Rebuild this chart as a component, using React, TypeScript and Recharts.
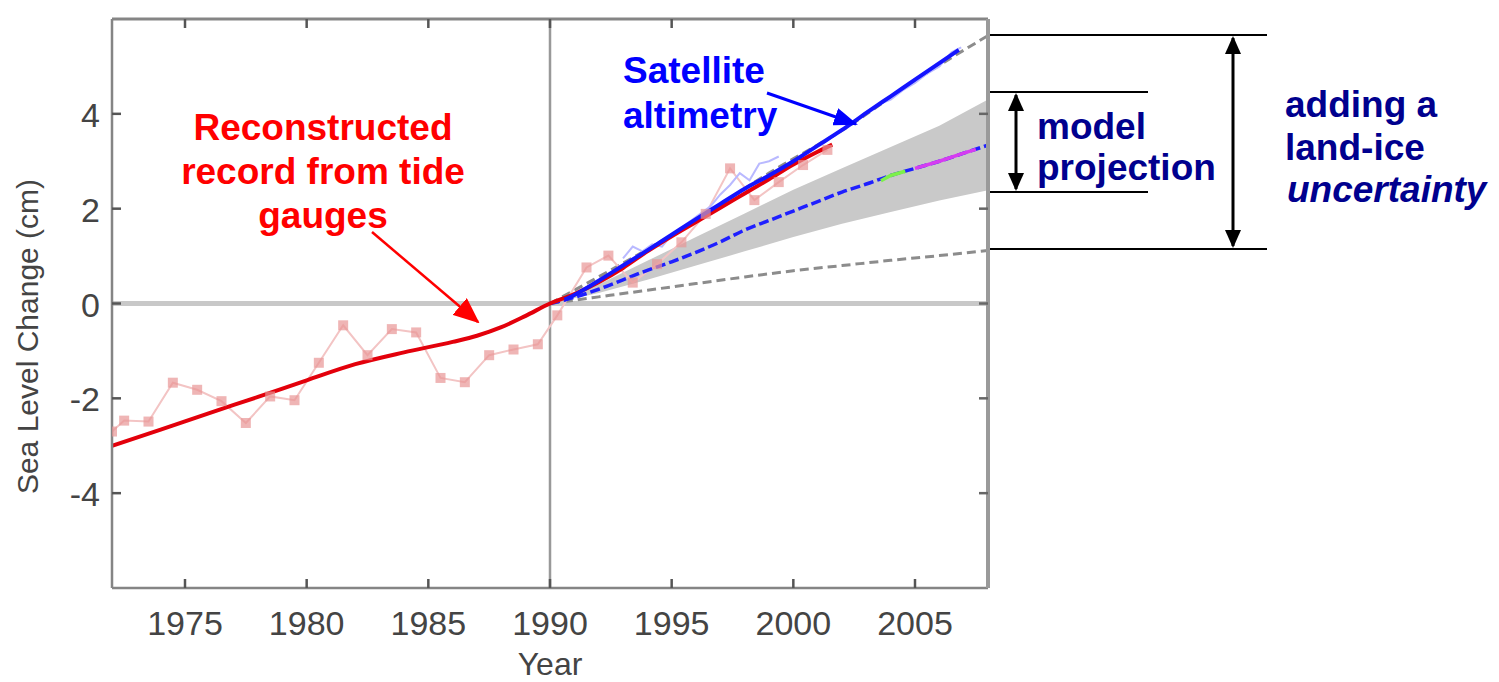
import React from 'react';
import {
  ComposedChart,
  Line,
  Area,
  XAxis,
  YAxis,
  ReferenceLine,
} from 'recharts';

// --- data (cm, relative to 1990) ---
const xTicks = [1975, 1980, 1985, 1990, 1995, 2000, 2005];
const yTicks = [-4, -2, 0, 2, 4];

// smooth reconstruction from tide gauges
const reconYears = [1972, 1974, 1976, 1978, 1980, 1982, 1984, 1986, 1987, 1988, 1989, 1990, 1991, 1992, 1993, 1994, 1995, 1996, 1997, 1998, 1999, 2000, 2001, 2001.6];
const reconCm = [-3.0, -2.66, -2.31, -1.97, -1.62, -1.28, -1.03, -0.81, -0.68, -0.5, -0.26, 0, 0.2, 0.45, 0.75, 1.1, 1.42, 1.72, 2.02, 2.32, 2.62, 2.93, 3.2, 3.35];

// annual tide-gauge values (faint squares)
const gaugeYears = [1972, 1972.5, 1973.5, 1974.5, 1975.5, 1976.5, 1977.5, 1978.5, 1979.5, 1980.5, 1981.5, 1982.5, 1983.5, 1984.5, 1985.5, 1986.5, 1987.5, 1988.5, 1989.5, 1990.3, 1991.5, 1992.4, 1993.4, 1994.4, 1995.4, 1996.4, 1997.4, 1998.4, 1999.4, 2000.4, 2001.4];
const gaugeCm = [-2.7, -2.47, -2.49, -1.67, -1.82, -2.06, -2.52, -1.96, -2.04, -1.25, -0.46, -1.09, -0.54, -0.61, -1.57, -1.66, -1.09, -0.97, -0.86, -0.25, 0.76, 1.01, 0.44, 0.83, 1.29, 1.89, 2.85, 2.18, 2.56, 2.92, 3.24];

// satellite altimetry trend
const satYears = [1990.6, 1991, 1992, 1993, 1994, 1995, 1996, 1997, 1998, 1999, 2000, 2001, 2002, 2003, 2004, 2005, 2006, 2006.8];
const satCm = [0.08, 0.18, 0.48, 0.8, 1.12, 1.45, 1.78, 2.1, 2.42, 2.7, 3.0, 3.33, 3.66, 4.02, 4.37, 4.72, 5.07, 5.35];

// satellite altimetry raw (faint blue)
const satRawYears = [1993, 1993.4, 1993.8, 1994.2, 1994.6, 1995, 1995.4, 1995.8, 1996.2, 1996.6, 1997, 1997.4, 1997.8, 1998.2, 1998.6, 1999, 1999.4, 2001, 2002.5, 2003, 2003.5, 2004, 2004.5, 2005, 2005.5, 2006, 2006.5, 2006.9];
const satRawCm = [0.95, 1.2, 1.1, 1.25, 1.2, 1.45, 1.6, 1.75, 1.9, 2.05, 2.3, 2.5, 2.75, 2.6, 2.95, 3.0, 3.1, null, 3.85, 4.05, 4.2, 4.3, 4.5, 4.65, 4.85, 5.0, 5.3, 5.4];

// model projection: mean and range
const modelYears = [1990, 1991, 1992, 1993, 1994, 1995, 1996, 1997, 1998, 1999, 2000, 2001, 2002, 2003, 2004, 2005, 2006, 2007, 2008];
const modelCm = [0, 0.13, 0.3, 0.5, 0.7, 0.88, 1.08, 1.3, 1.55, 1.75, 1.95, 2.15, 2.35, 2.52, 2.7, 2.85, 3.0, 3.17, 3.34];
const bandYears = [1990, 1992, 1994, 1996, 1998, 2000, 2002, 2004, 2006, 2008];
const bandLow = [0, 0.22, 0.5, 0.8, 1.1, 1.4, 1.68, 1.93, 2.17, 2.39];
const bandHigh = [0, 0.4, 0.9, 1.4, 1.9, 2.4, 2.85, 3.3, 3.75, 4.3];

// short coloured pieces on the model line
const greenYears = [2003.6, 2004, 2004.6];
const greenCm = [2.59, 2.7, 2.79];
const magentaYears = [2005, 2006, 2007, 2007.5];
const magentaCm = [2.85, 3.0, 3.17, 3.25];

// land-ice uncertainty bounds
const iceLowYears = [1990, 1992, 1994, 1996, 1998, 2000, 2002, 2004, 2006, 2008];
const iceLowCm = [0, 0.14, 0.28, 0.42, 0.56, 0.69, 0.8, 0.91, 1.01, 1.12];
const iceHighYears = [1990, 1993, 1996, 1999, 2002, 2005, 2008];
const iceHighCm = [0, 0.85, 1.75, 2.75, 3.65, 4.7, 5.65];

const rows = (xs: number[], ys: (number | null)[]) => xs.map((year, i) => ({ year, v: ys[i] }));

const reconData = rows(reconYears, reconCm);
const gaugeData = rows(gaugeYears, gaugeCm);
const satData = rows(satYears, satCm);
const satRawData = rows(satRawYears, satRawCm);
const modelData = rows(modelYears, modelCm);
const greenData = rows(greenYears, greenCm);
const magentaData = rows(magentaYears, magentaCm);
const iceLowData = rows(iceLowYears, iceLowCm);
const iceHighData = rows(iceHighYears, iceHighCm);
const bandData = bandYears.map((year, i) => ({ year, band: [bandLow[i], bandHigh[i]] }));

const FONT = '"Liberation Sans", Arial, Helvetica, sans-serif';
const FRAME = '#858585';

const BottomTick = ({ x, y, payload }: any) => (
  <g>
    <line x1={x} x2={x} y1={y} y2={y - 9} stroke="#555" strokeWidth={2.5} />
    <text x={x} y={y + 47} textAnchor="middle" fontSize={34} fill="#444" fontFamily={FONT}>
      {payload.value}
    </text>
  </g>
);

const TopTick = ({ x, y }: any) => (
  <line x1={x} x2={x} y1={y} y2={y + 9} stroke="#555" strokeWidth={2.5} />
);

const LeftTick = ({ x, y, payload }: any) => (
  <g>
    <line x1={x} x2={x + 9} y1={y} y2={y} stroke="#555" strokeWidth={2.5} />
    <text x={x - 12} y={y + 13} textAnchor="end" fontSize={34} fill="#444" fontFamily={FONT}>
      {payload.value}
    </text>
  </g>
);

const RightTick = ({ x, y }: any) => (
  <line x1={x} x2={x - 9} y1={y} y2={y} stroke="#666" strokeWidth={2.5} />
);

const GaugeDot = ({ cx, cy }: any) =>
  cx == null || cy == null ? null : (
    <rect x={cx - 5} y={cy - 5} width={10} height={10} fill="#e89595" fillOpacity={0.7} />
  );

function Annotations() {
  const navy = '#00008e';
  return (
    <svg
      width={1499}
      height={682}
      style={{ position: 'absolute', left: 0, top: 0, pointerEvents: 'none' }}
      fontFamily={FONT}
      fontWeight="bold"
      fontSize={37}
    >
      <defs>
        <marker id="headRed" markerUnits="userSpaceOnUse" markerWidth={26} markerHeight={22} refX={24} refY={11} orient="auto">
          <path d="M0,0 L26,11 L0,22 z" fill="#ff0000" />
        </marker>
        <marker id="headBlue" markerUnits="userSpaceOnUse" markerWidth={24} markerHeight={18} refX={22} refY={9} orient="auto">
          <path d="M0,0 L24,9 L0,18 z" fill="#0000ff" />
        </marker>
        <marker id="headBlack" markerUnits="userSpaceOnUse" markerWidth={18} markerHeight={16} refX={16} refY={8} orient="auto-start-reverse">
          <path d="M0,0 L18,8 L0,16 z" fill="#000" />
        </marker>
      </defs>

      <g fill="#ff0000" textAnchor="middle">
        <text x={323} y={140}>Reconstructed</text>
        <text x={323} y={184}>record from tide</text>
        <text x={323} y={228}>gauges</text>
      </g>
      <line x1={372} y1={232} x2={478} y2={322} stroke="#ff0000" strokeWidth={2.5} markerEnd="url(#headRed)" />

      <g fill="#0000ff">
        <text x={623} y={83}>Satellite</text>
        <text x={623} y={128}>altimetry</text>
      </g>
      <line x1={767} y1={93} x2={856} y2={124} stroke="#0000ff" strokeWidth={3} markerEnd="url(#headBlue)" />

      <g stroke="#000" strokeWidth={2}>
        <line x1={990} x2={1267} y1={35} y2={35} />
        <line x1={990} x2={1148} y1={92} y2={92} />
        <line x1={990} x2={1148} y1={192} y2={192} />
        <line x1={990} x2={1267} y1={249} y2={249} />
      </g>
      <line x1={1016} x2={1016} y1={95} y2={189} stroke="#000" strokeWidth={3} markerStart="url(#headBlack)" markerEnd="url(#headBlack)" />
      <line x1={1233} x2={1233} y1={38} y2={246} stroke="#000" strokeWidth={3} markerStart="url(#headBlack)" markerEnd="url(#headBlack)" />

      <g fill={navy}>
        <text x={1037} y={139}>model</text>
        <text x={1037} y={180}>projection</text>
        <text x={1285} y={117}>adding a</text>
        <text x={1285} y={160}>land-ice</text>
        <text x={1287} y={202} fontStyle="italic">uncertainty</text>
      </g>
    </svg>
  );
}

export default function App() {
  return (
    <div style={{ position: 'absolute', left: 0, top: 0, width: 1499, height: 682, background: '#fff' }}>
      <ComposedChart
        width={1499}
        height={682}
        margin={{ top: 18, right: 510, bottom: 0, left: 0 }}
      >
        <XAxis
          dataKey="year"
          type="number"
          domain={[1972, 2008]}
          allowDataOverflow
          ticks={xTicks}
          height={94}
          tickSize={0}
          tickMargin={0}
          tickLine={false}
          axisLine={{ stroke: FRAME, strokeWidth: 2.5 }}
          tick={<BottomTick />}
          label={({ viewBox }: any) => (
            <text
              x={viewBox.x + viewBox.width / 2}
              y={viewBox.y + 87}
              textAnchor="middle"
              fontSize={32}
              fill="#444"
              fontFamily={FONT}
            >
              Year
            </text>
          )}
        />
        <XAxis
          xAxisId="top"
          orientation="top"
          dataKey="year"
          type="number"
          domain={[1972, 2008]}
          allowDataOverflow
          ticks={xTicks}
          height={1}
          tickSize={0}
          tickMargin={0}
          tickLine={false}
          axisLine={{ stroke: FRAME, strokeWidth: 3 }}
          tick={<TopTick />}
        />
        <YAxis
          type="number"
          domain={[-6, 6]}
          allowDataOverflow
          ticks={yTicks}
          width={112}
          tickSize={0}
          tickMargin={0}
          tickLine={false}
          axisLine={{ stroke: FRAME, strokeWidth: 2.5 }}
          tick={<LeftTick />}
          label={({ viewBox }: any) => {
            const cx = viewBox.x + 27;
            const cy = viewBox.y + viewBox.height / 2 + 33;
            return (
              <text
                x={cx}
                y={cy}
                transform={`rotate(-90, ${cx}, ${cy})`}
                textAnchor="middle"
                dominantBaseline="central"
                fontSize={30}
                fill="#444"
                fontFamily={FONT}
              >
                Sea Level Change (cm)
              </text>
            );
          }}
        />
        <YAxis
          yAxisId="right"
          orientation="right"
          type="number"
          domain={[-6, 6]}
          allowDataOverflow
          ticks={yTicks}
          width={1}
          tickSize={0}
          tickMargin={0}
          tickLine={false}
          axisLine={{ stroke: '#9a9a9a', strokeWidth: 4 }}
          tick={<RightTick />}
        />

        <Area
          data={bandData}
          dataKey="band"
          type="linear"
          stroke="none"
          fill="#c9c9c9"
          fillOpacity={1}
          isAnimationActive={false}
        />
        <ReferenceLine y={0} stroke="#c8c8c8" strokeWidth={5} />
        <ReferenceLine x={1990} stroke="#999" strokeWidth={2.5} />

        {/* invisible copy that ties the top/right frame axes to the chart */}
        <Line data={reconData} dataKey="v" xAxisId="top" yAxisId="right" stroke="none" dot={false} legendType="none" isAnimationActive={false} />

        <Line data={iceLowData} dataKey="v" type="monotone" stroke="#8c8c8c" strokeWidth={3} strokeDasharray="9 5" dot={false} isAnimationActive={false} />
        <Line data={iceHighData} dataKey="v" type="monotone" stroke="#8c8c8c" strokeWidth={3} strokeDasharray="9 5" dot={false} isAnimationActive={false} />
        <Line data={gaugeData} dataKey="v" type="linear" stroke="#f3c4c4" strokeWidth={2} dot={<GaugeDot />} isAnimationActive={false} />
        <Line data={satRawData} dataKey="v" type="linear" stroke="#b9b9ff" strokeWidth={2} dot={false} connectNulls={false} isAnimationActive={false} />
        <Line data={modelData} dataKey="v" type="monotone" stroke="#1f1fff" strokeWidth={3.5} strokeDasharray="10 4" dot={false} isAnimationActive={false} />
        <Line data={greenData} dataKey="v" type="linear" stroke="#7cf04a" strokeWidth={3.5} dot={false} isAnimationActive={false} />
        <Line data={magentaData} dataKey="v" type="linear" stroke="#d63cf0" strokeWidth={3.5} dot={false} isAnimationActive={false} />
        <Line data={reconData} dataKey="v" type="monotone" stroke="#e3000b" strokeWidth={4} dot={false} isAnimationActive={false} />
        <Line data={satData} dataKey="v" type="monotone" stroke="#1414ff" strokeWidth={4} dot={false} isAnimationActive={false} />
      </ComposedChart>
      <Annotations />
    </div>
  );
}
